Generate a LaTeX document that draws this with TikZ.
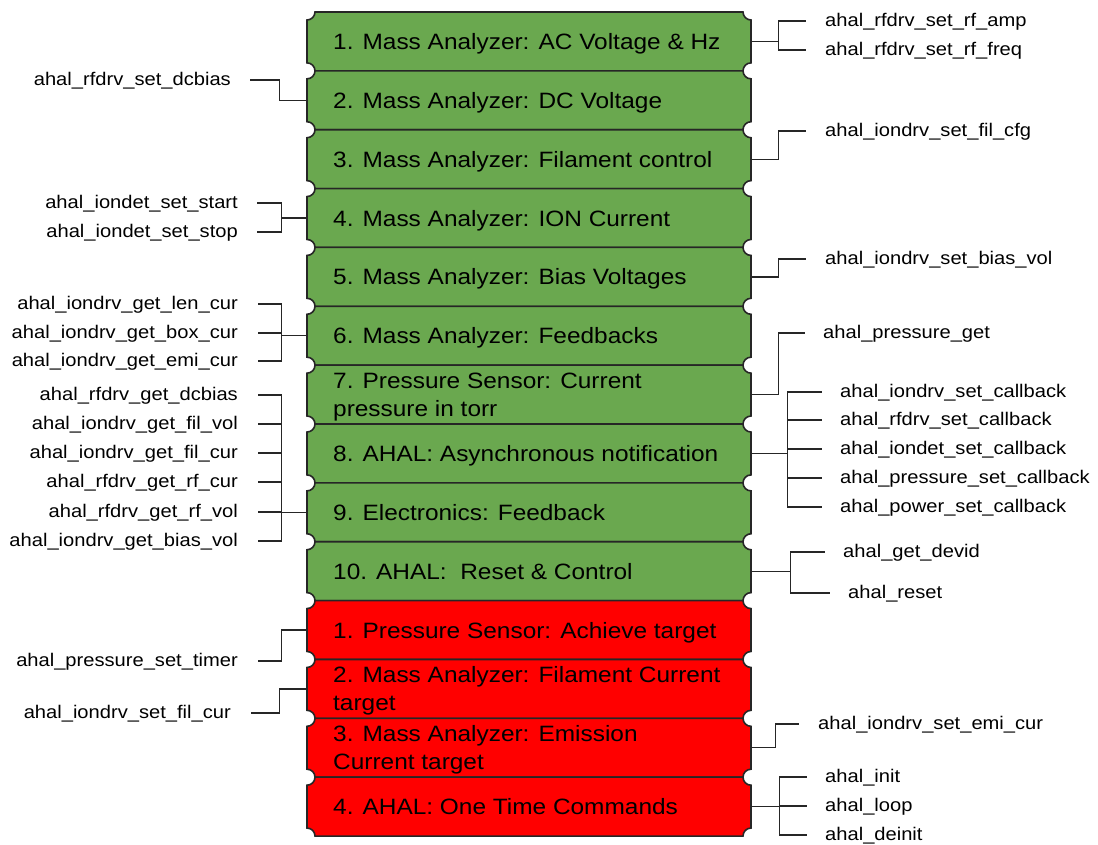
\documentclass[tikz,border=0pt]{standalone}
\usepackage{fontspec}
\setmainfont{Liberation Sans}[FakeStretch=1.1]
\definecolor{boxgreen}{HTML}{6AA84F}
\definecolor{boxred}{HTML}{FF0000}
\tikzset{
  boxline/.style={draw=black!85, line width=1.6pt},
  boxnode/.style={minimum width=444pt, minimum height=58.86pt, inner sep=0pt},
  boxtext/.style={anchor=west, align=left, inner sep=0pt, font=\fontsize{22.2}{28}\selectfont, text depth=0pt},
  lab/.style={inner sep=0pt, font=\fontsize{18.3}{21}\selectfont, text height=13pt, text depth=3pt},
  rlab/.style={lab, anchor=west},
  llab/.style={lab, anchor=east},
  conn/.style={draw=black!85, line width=1.3pt},
}
\newcommand\notchbox[5]{% #1 top y, #2 colour, #3 box name, #4 text name, #5 text
  \pgfmathsetmacro\nbT{#1}\pgfmathsetmacro\nbB{#1+58.86}\pgfmathsetmacro\nbC{#1+29.43}
  \draw[boxline, fill=#2] (315,\nbT) -- (743,\nbT) arc[start angle=180,end angle=90,radius=8]
    -- (751,\nbB-8) arc[start angle=270,end angle=180,radius=8]
    -- (315,\nbB) arc[start angle=0,end angle=-90,radius=8]
    -- (307,\nbT+8) arc[start angle=90,end angle=0,radius=8] -- cycle;
  \node[boxnode] (#3) at (529,\nbC) {};
  \node[boxtext] (#4) at (333,\nbC) {#5};
}
\begin{document}
\begin{tikzpicture}[x=1pt,y=1pt,yscale=-1]
\useasboundingbox[fill=white] (0,0) rectangle (1098,844);
\notchbox{12}{boxgreen}{b1}{t1}{1. Mass Analyzer: AC Voltage \& Hz}
\notchbox{70.86}{boxgreen}{b2}{t2}{2. Mass Analyzer: DC Voltage}
\notchbox{129.72}{boxgreen}{b3}{t3}{3. Mass Analyzer: Filament control}
\notchbox{188.58}{boxgreen}{b4}{t4}{4. Mass Analyzer: ION Current}
\notchbox{247.44}{boxgreen}{b5}{t5}{5. Mass Analyzer: Bias Voltages}
\notchbox{306.3}{boxgreen}{b6}{t6}{6. Mass Analyzer: Feedbacks}
\notchbox{365.16}{boxgreen}{b7}{t7}{7. Pressure Sensor: Current\\pressure in torr}
\notchbox{424.02}{boxgreen}{b8}{t8}{8. AHAL: Asynchronous notification}
\notchbox{482.88}{boxgreen}{b9}{t9}{9. Electronics: Feedback}
\notchbox{541.74}{boxgreen}{b10}{t10}{10. AHAL:~ Reset \& Control}
\notchbox{600.6}{boxred}{b11}{t11}{1. Pressure Sensor: Achieve target}
\notchbox{659.46}{boxred}{b12}{t12}{2. Mass Analyzer: Filament Current\\target}
\notchbox{718.32}{boxred}{b13}{t13}{3. Mass Analyzer: Emission\\Current target}
\notchbox{777.18}{boxred}{b14}{t14}{4. AHAL: One Time Commands}

% right labels
\node[rlab] (r1a) at (825,21) {ahal\_rfdrv\_set\_rf\_amp};
\node[rlab] (r1b) at (825,50) {ahal\_rfdrv\_set\_rf\_freq};
\node[rlab] (r3) at (825,131) {ahal\_iondrv\_set\_fil\_cfg};
\node[rlab] (r5) at (825,259) {ahal\_iondrv\_set\_bias\_vol};
\node[rlab] (r7) at (823,333) {ahal\_pressure\_get};
\node[rlab] (r8a) at (840,392) {ahal\_iondrv\_set\_callback};
\node[rlab] (r8b) at (840,420) {ahal\_rfdrv\_set\_callback};
\node[rlab] (r8c) at (840,449) {ahal\_iondet\_set\_callback};
\node[rlab] (r8d) at (840,478) {ahal\_pressure\_set\_callback};
\node[rlab] (r8e) at (840,507) {ahal\_power\_set\_callback};
\node[rlab] (r10a) at (843,552) {ahal\_get\_devid};
\node[rlab] (r10b) at (848,593) {ahal\_reset};
\node[rlab] (r13) at (818,724) {ahal\_iondrv\_set\_emi\_cur};
\node[rlab] (r14a) at (825,777) {ahal\_init};
\node[rlab] (r14b) at (825,806) {ahal\_loop};
\node[rlab] (r14c) at (825,835) {ahal\_deinit};

% left labels
\node[llab] (l2) at (231,80) {ahal\_rfdrv\_set\_dcbias};
\node[llab] (l4a) at (238,203) {ahal\_iondet\_set\_start};
\node[llab] (l4b) at (238,232) {ahal\_iondet\_set\_stop};
\node[llab] (l6a) at (238,304) {ahal\_iondrv\_get\_len\_cur};
\node[llab] (l6b) at (238,333) {ahal\_iondrv\_get\_box\_cur};
\node[llab] (l6c) at (238,361) {ahal\_iondrv\_get\_emi\_cur};
\node[llab] (l9a) at (238,395) {ahal\_rfdrv\_get\_dcbias};
\node[llab] (l9b) at (238,424) {ahal\_iondrv\_get\_fil\_vol};
\node[llab] (l9c) at (238,453) {ahal\_iondrv\_get\_fil\_cur};
\node[llab] (l9d) at (238,482) {ahal\_rfdrv\_get\_rf\_cur};
\node[llab] (l9e) at (238,512) {ahal\_rfdrv\_get\_rf\_vol};
\node[llab] (l9f) at (238,541) {ahal\_iondrv\_get\_bias\_vol};
\node[llab] (l11) at (238,661) {ahal\_pressure\_set\_timer};
\node[llab] (l12) at (231,713) {ahal\_iondrv\_set\_fil\_cur};

% right connectors
\foreach \t in {r1a,r1b}{\draw[conn] (b1.east) -- ++(27,0) |- ([xshift=-19pt]\t.west);}
\draw[conn] (b3.east) -- ++(27,0) |- ([xshift=-19pt]r3.west);
\draw[conn] (b5.east) -- ++(27,0) |- ([xshift=-19pt]r5.west);
\draw[conn] (b7.east) -- ++(27,0) |- ([xshift=-18pt]r7.west);
\foreach \t in {r8a,r8b,r8c,r8d,r8e}{\draw[conn] (b8.east) -- ++(36,0) |- ([xshift=-18pt]\t.west);}
\foreach \t in {r10a,r10b}{\draw[conn] (b10.east) -- ++(39,0) |- ([xshift=-18pt]\t.west);}
\draw[conn] (b13.east) -- ++(24,0) |- ([xshift=-19pt]r13.west);
\foreach \t in {r14a,r14b,r14c}{\draw[conn] (b14.east) -- ++(28,0) |- ([xshift=-18pt]\t.west);}

% left connectors
\draw[conn] (b2.west) -- ++(-27,0) |- ([xshift=19pt]l2.east);
\foreach \t in {l4a,l4b}{\draw[conn] (b4.west) -- ++(-25,0) |- ([xshift=19pt]\t.east);}
\foreach \t in {l6a,l6b,l6c}{\draw[conn] (b6.west) -- ++(-25,0) |- ([xshift=20pt]\t.east);}
\foreach \t in {l9a,l9b,l9c,l9d,l9e,l9f}{\draw[conn] (b9.west) -- ++(-25,0) |- ([xshift=20pt]\t.east);}
\draw[conn] (b11.west) -- ++(-25,0) |- ([xshift=20pt]l11.east);
\draw[conn] (b12.west) -- ++(-27,0) |- ([xshift=20pt]l12.east);
\end{tikzpicture}
\end{document}
